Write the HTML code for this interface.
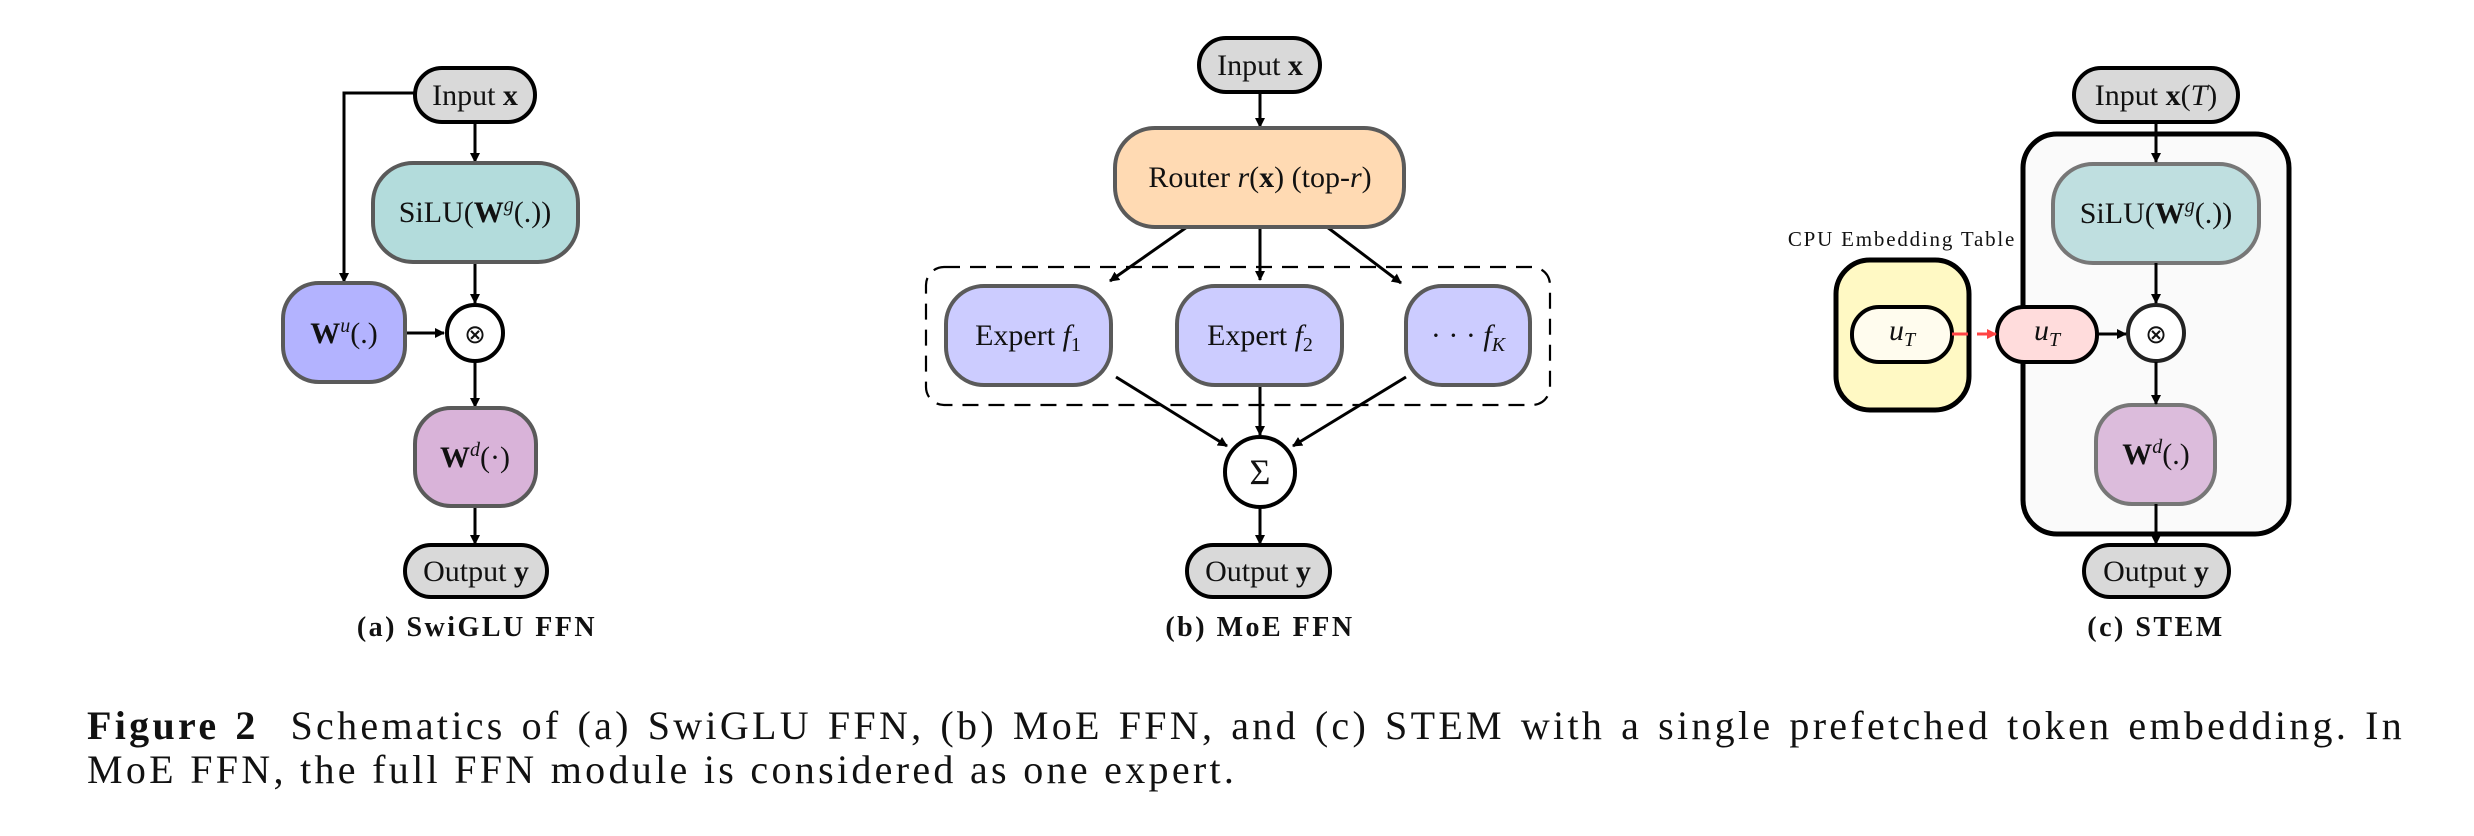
<!DOCTYPE html>
<html><head><meta charset="utf-8"><style>
html,body{margin:0;padding:0;background:#fff}
svg{display:block}
.cap{position:absolute;left:87px;width:2318px;font-family:"Liberation Serif",serif;font-size:40px;line-height:44px;color:#111;white-space:nowrap;letter-spacing:3.3px}
.l1{top:704px;text-align:justify;text-align-last:justify;white-space:normal}
.l2{top:748px}
</style></head><body>
<div style="position:relative;width:2474px;height:836px;overflow:hidden">
<svg width="2474" height="836" viewBox="0 0 2474 836" xmlns="http://www.w3.org/2000/svg" font-family="Liberation Serif, serif">
<defs>
<marker id="ah" markerWidth="10" markerHeight="10" refX="9" refY="5" orient="auto" markerUnits="userSpaceOnUse" viewBox="0 0 10 10"><path d="M0,0 L10,5 L0,10 z" fill="#000"/></marker>
<marker id="ar" markerWidth="10" markerHeight="10" refX="9" refY="5" orient="auto" markerUnits="userSpaceOnUse" viewBox="0 0 10 10"><path d="M0,0 L10,5 L0,10 z" fill="#f44"/></marker>
</defs>
<g stroke="#000" stroke-width="3" fill="none">
<path d="M415,93 H344 V282" marker-end="url(#ah)"/>
<line x1="475" y1="122" x2="475" y2="162" marker-end="url(#ah)"/>
<line x1="475" y1="262" x2="475" y2="303" marker-end="url(#ah)"/>
<line x1="405" y1="333" x2="444" y2="333" marker-end="url(#ah)"/>
<line x1="475" y1="362" x2="475" y2="407" marker-end="url(#ah)"/>
<line x1="475" y1="506" x2="475" y2="544" marker-end="url(#ah)"/>
<line x1="1260" y1="92" x2="1260" y2="127" marker-end="url(#ah)"/>
<line x1="1187" y1="227" x2="1110" y2="281" marker-end="url(#ah)"/>
<line x1="1260" y1="227" x2="1260" y2="280" marker-end="url(#ah)"/>
<line x1="1327" y1="227" x2="1401" y2="283" marker-end="url(#ah)"/>
<line x1="1116" y1="377" x2="1227" y2="446" marker-end="url(#ah)"/>
<line x1="1260" y1="385" x2="1260" y2="435" marker-end="url(#ah)"/>
<line x1="1406" y1="377" x2="1293" y2="446" marker-end="url(#ah)"/>
<line x1="1260" y1="507" x2="1260" y2="544" marker-end="url(#ah)"/>
</g>
<rect x="926" y="267" width="624" height="138" rx="18" fill="none" stroke="#000" stroke-width="2.2" stroke-dasharray="16,10"/>
<g stroke-width="4">
<rect x="415" y="68" width="120" height="54" rx="27" fill="#d9d9d9" stroke="#000"/>
<rect x="373" y="163" width="205" height="99" rx="40" fill="#b3dcdc" stroke="#5a5a5a"/>
<rect x="283" y="283" width="122" height="99" rx="36" fill="#b3b3ff" stroke="#5a5a5a"/>
<circle cx="475" cy="333" r="28" fill="#fff" stroke="#000"/>
<rect x="415" y="408" width="121" height="98" rx="36" fill="#d9b3d9" stroke="#5a5a5a"/>
<rect x="405" y="545" width="142" height="52" rx="26" fill="#d9d9d9" stroke="#000"/>
<rect x="1199" y="38" width="121" height="54" rx="27" fill="#d9d9d9" stroke="#000"/>
<rect x="1115" y="128" width="289" height="99" rx="40" fill="#ffdab3" stroke="#5a5a5a"/>
<rect x="946" y="286" width="165" height="99" rx="38" fill="#ccccff" stroke="#5a5a5a"/>
<rect x="1177" y="286" width="165" height="99" rx="38" fill="#ccccff" stroke="#5a5a5a"/>
<rect x="1406" y="286" width="124" height="99" rx="36" fill="#ccccff" stroke="#5a5a5a"/>
<circle cx="1260" cy="472" r="35" fill="#fff" stroke="#000"/>
<rect x="1187" y="545" width="143" height="52" rx="26" fill="#d9d9d9" stroke="#000"/>
<rect x="2023" y="134" width="266" height="400" rx="34" fill="#fafafa" stroke="#000" stroke-width="5"/>
<rect x="1836" y="260" width="133" height="150" rx="34" fill="#fff9c4" stroke="#000" stroke-width="5"/>
<rect x="1852" y="307" width="100" height="55" rx="27" fill="#fffcee" stroke="#000"/>
<rect x="1997" y="307" width="100" height="55" rx="27" fill="#ffdcdc" stroke="#000"/>
<rect x="2074" y="68" width="164" height="54" rx="27" fill="#d9d9d9" stroke="#000"/>
<rect x="2053" y="164" width="206" height="99" rx="40" fill="#bfdfe0" stroke="#777"/>
<circle cx="2156" cy="333" r="28" fill="#fff" stroke="#222"/>
<rect x="2096" y="405" width="119" height="99" rx="36" fill="#dcbcdc" stroke="#777"/>
<rect x="2084" y="545" width="145" height="52" rx="26" fill="#d9d9d9" stroke="#000"/>
</g>
<g stroke="#000" stroke-width="3" fill="none">
<line x1="2156" y1="122" x2="2156" y2="162" marker-end="url(#ah)"/>
<line x1="2156" y1="263" x2="2156" y2="303" marker-end="url(#ah)"/>
<line x1="2097" y1="334" x2="2126" y2="334" marker-end="url(#ah)"/>
<line x1="2156" y1="362" x2="2156" y2="404" marker-end="url(#ah)"/>
<line x1="2156" y1="504" x2="2156" y2="544" marker-end="url(#ah)"/>
</g>
<line x1="1952" y1="334" x2="1968" y2="334" stroke="#f44" stroke-width="3"/>
<line x1="1977" y1="334" x2="1996" y2="334" stroke="#f44" stroke-width="3" marker-end="url(#ar)"/>
<g font-size="30" fill="#111" text-anchor="middle">
<text x="475" y="105">Input <tspan font-weight="bold">x</tspan></text>
<text x="475" y="222">SiLU(<tspan font-weight="bold">W</tspan><tspan font-style="italic" font-size="20" dy="-11">g</tspan><tspan dy="11">(.))</tspan></text>
<text x="344" y="343"><tspan font-weight="bold">W</tspan><tspan font-style="italic" font-size="20" dy="-11">u</tspan><tspan dy="11">(.)</tspan></text>
<text x="475" y="343" font-size="26">⊗</text>
<text x="475" y="467"><tspan font-weight="bold">W</tspan><tspan font-style="italic" font-size="20" dy="-11">d</tspan><tspan dy="11">(·)</tspan></text>
<text x="476" y="581">Output <tspan font-weight="bold">y</tspan></text>
<text x="1260" y="75">Input <tspan font-weight="bold">x</tspan></text>
<text x="1260" y="187">Router <tspan font-style="italic">r</tspan>(<tspan font-weight="bold">x</tspan>) (top-<tspan font-style="italic">r</tspan>)</text>
<text x="1028" y="345">Expert <tspan font-style="italic">f</tspan><tspan font-size="20" dy="6">1</tspan></text>
<text x="1260" y="345">Expert <tspan font-style="italic">f</tspan><tspan font-size="20" dy="6">2</tspan></text>
<text x="1468" y="345">· · ·  <tspan font-style="italic">f</tspan><tspan font-style="italic" font-size="20" dy="6">K</tspan></text>
<text x="1260" y="484" font-size="36">Σ</text>
<text x="1258" y="581">Output <tspan font-weight="bold">y</tspan></text>
<text x="2156" y="105">Input <tspan font-weight="bold">x</tspan>(<tspan font-style="italic">T</tspan>)</text>
<text x="2156" y="223">SiLU(<tspan font-weight="bold">W</tspan><tspan font-style="italic" font-size="20" dy="-11">g</tspan><tspan dy="11">(.))</tspan></text>
<text x="2156" y="343" font-size="26">⊗</text>
<text x="2156" y="464"><tspan font-weight="bold">W</tspan><tspan font-style="italic" font-size="20" dy="-11">d</tspan><tspan dy="11">(.)</tspan></text>
<text x="2156" y="581">Output <tspan font-weight="bold">y</tspan></text>
<text x="1902" y="340" font-style="italic">u<tspan font-size="20" dy="6">T</tspan></text>
<text x="2047" y="340" font-style="italic">u<tspan font-size="20" dy="6">T</tspan></text>
</g>
<text x="1902" y="246" font-size="21" letter-spacing="1.8" text-anchor="middle" fill="#111">CPU Embedding Table</text>
<g font-size="28" font-weight="bold" letter-spacing="2.5" text-anchor="middle" fill="#111">
<text x="477" y="636">(a) SwiGLU FFN</text>
<text x="1260" y="636">(b) MoE FFN</text>
<text x="2156" y="636">(c) STEM</text>
</g>
</svg>
<div class="cap l1"><b>Figure 2</b>&nbsp; Schematics of (a) SwiGLU FFN, (b) MoE FFN, and (c) STEM with a single prefetched token embedding. In</div>
<div class="cap l2">MoE FFN, the full FFN module is considered as one expert.</div>
</div>
</body></html>
